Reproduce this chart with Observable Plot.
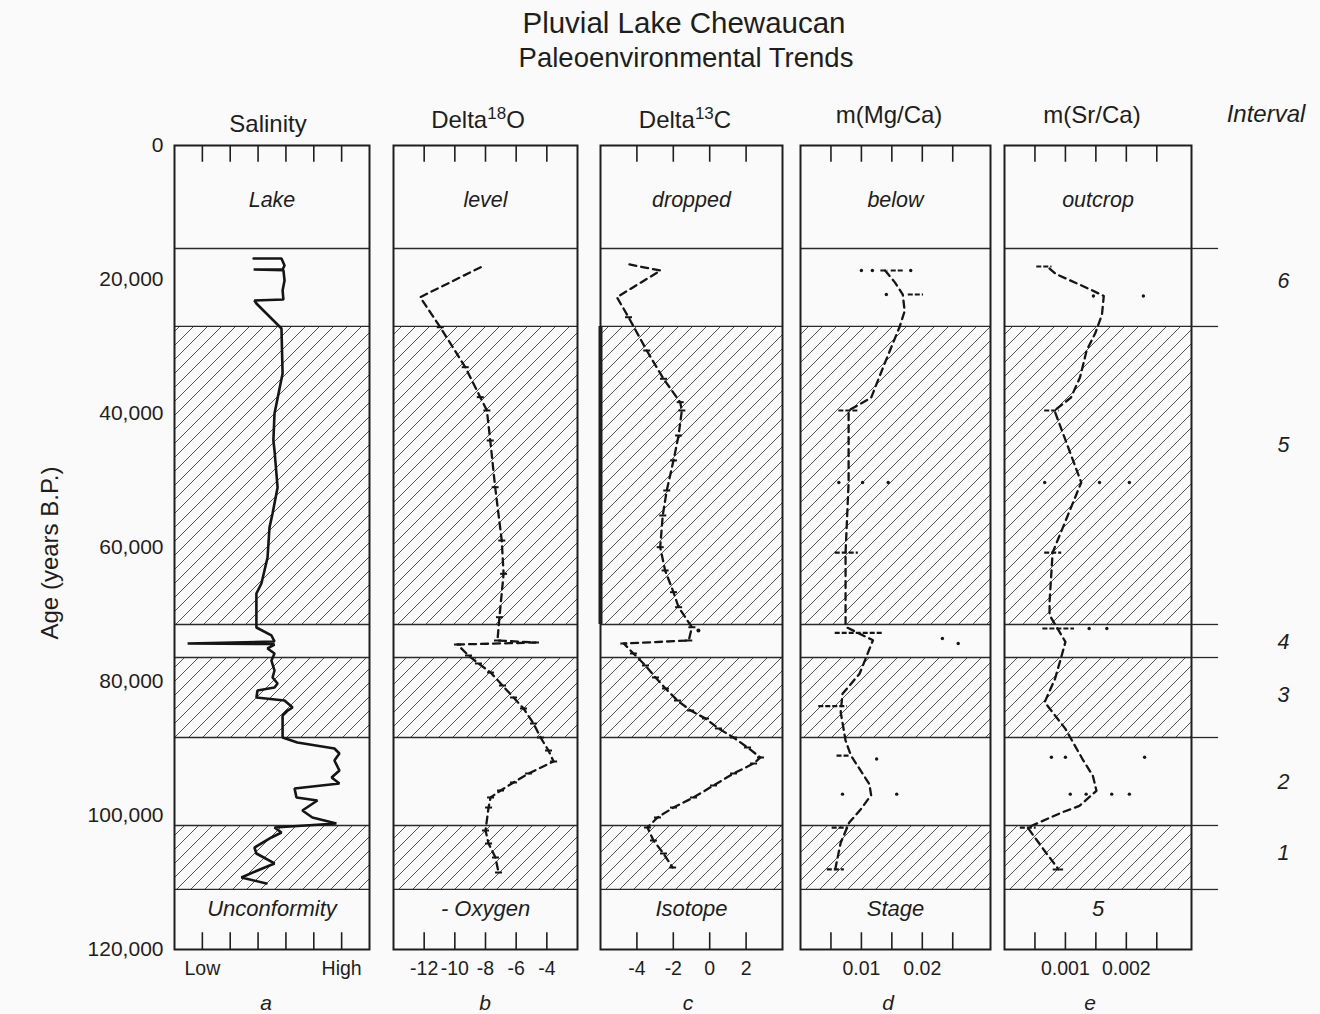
<!DOCTYPE html>
<html><head><meta charset="utf-8">
<script src="https://cdn.jsdelivr.net/npm/d3@7"></script>
<script src="https://cdn.jsdelivr.net/npm/@observablehq/plot@0.6"></script>
<style>
body{margin:0;background:#fafafa;font-family:"Liberation Sans",Arial,sans-serif;color:#1e1e1e}
#wrap{position:relative;width:1320px;height:1014px;overflow:hidden}
.t{position:absolute;white-space:nowrap;text-align:center;line-height:1}
</style></head><body>
<svg width="0" height="0" style="position:absolute"><defs>
<pattern id="hatch" patternUnits="userSpaceOnUse" width="14" height="14">
<path d="M0,14 L14,0 M-3.5,3.5 L3.5,-3.5 M10.5,17.5 L17.5,10.5" stroke="#4a4a4a" stroke-width="0.95" fill="none"/>
</pattern></defs></svg>
<div id="wrap"></div>
<script>
// ---------- data ----------
const ageTicks = [0, 20000, 40000, 60000, 80000, 100000, 120000];
const bandBounds = [15370, 27010, 71490, 76420, 88360, 101490, 111040];
const hatchStart = [27010, 76420, 101490];
const hatchEnd = [71490, 88360, 111040];
const topWords = ["Lake", "level", "dropped", "below", "outcrop"];
const bottomWords = ["Unconformity", "- Oxygen", "Isotope", "Stage", "5"];
const topWordAge = 8210, bottomWordAge = 113880;
const panelLetters = ["a", "b", "c", "d", "e"];
const intervalNames = ["6", "5", "4", "3", "2", "1"];
const intervalAge = [20300, 44780, 74180, 82090, 95070, 105670];

// a: salinity (relative units 0..7, Low..High)
const salTicks = [1, 2, 3, 4, 5, 6];
const salLabelAt = [1, 6];
const salLabels = ["Low", "High"];
const salinityAge = [16870,16870,17910,18510,18510,18600,20150,21640,22990,23130,23580,27310,34030,40000,44030,45520,51040,54930,57010,61490,65370,66870,71940,73130,74030,74330,74400,74480,75070,75820,76870,78360,79400,80300,80900,81340,82390,82840,83880,84330,85070,88360,89100,90000,90750,91790,93280,94330,95220,95970,97310,97760,99250,100300,101190,101790,102540,103280,104780,105670,107160,108210,109250,110150];
const salinityValue = [2.84,3.84,3.95,3.88,2.84,3.91,3.95,3.88,3.91,2.87,2.94,3.84,3.88,3.59,3.55,3.59,3.70,3.52,3.41,3.34,3.12,2.94,2.94,3.48,3.59,0.47,3.48,3.59,3.34,3.59,3.48,3.59,3.52,3.70,3.59,2.98,2.94,3.95,4.24,4.06,3.88,3.88,4.41,5.74,5.92,5.74,5.92,5.64,5.92,4.31,4.38,5.13,4.59,4.95,5.81,3.59,3.84,3.48,2.87,2.94,3.59,2.98,2.40,3.30];

// b: delta 18O
const o18Ticks = [-12, -10, -8, -6, -4];
const o18Age = [18160,22640,27120,33090,37560,39550,44030,51000,58960,63930,70400,73880,74180,74480,76120,77310,78660,80600,82390,84030,86270,88360,90300,91940,93730,95070,96270,97310,98810,102240,104180,106270,108510];
const o18Value = [-8.31,-12.26,-10.95,-9.32,-8.34,-7.91,-7.69,-7.37,-6.94,-6.82,-7.09,-7.22,-4.74,-9.83,-9.11,-8.46,-7.67,-6.89,-6.17,-5.52,-4.87,-4.41,-3.89,-3.56,-5.19,-6.17,-7.02,-7.67,-7.80,-8.00,-7.80,-7.35,-7.15];

// c: delta 13C
const c13Ticks = [-4, -2, 0, 2];
const c13Age = [17760,18660,22640,25630,30600,34820,38310,39550,43280,47010,51490,55220,59950,63430,66670,68910,71900,73880,74330,75820,77610,79400,81040,82840,84330,85520,87010,88360,89850,91340,92240,93730,95520,97310,98810,100300,101790,103730,105670,107760];
const c13Value = [-4.41,-2.70,-5.10,-4.46,-3.46,-2.54,-1.62,-1.53,-1.71,-1.99,-2.36,-2.58,-2.72,-2.45,-1.99,-1.71,-0.98,-1.15,-4.72,-4.19,-3.53,-2.98,-2.43,-1.77,-1.05,-0.23,0.48,1.31,2.08,2.79,2.41,1.31,0.21,-0.89,-1.99,-2.87,-3.42,-3.09,-2.54,-2.04];
const c13DotAge = [72390];
const c13DotValue = [-0.62];

// d: m(Mg/Ca)
const mgTicks = [0.005, 0.01, 0.015, 0.02, 0.025];
const mgLabels = [0.01, 0.02];
const mgAge = [18660,20430,22240,24730,27010,32580,37640,39550,50300,60750,69100,71840,73840,78840,81840,84580,88820,91070,95310,96960,99060,101060,104060,108040];
const mgValue = [0.0139,0.0155,0.0168,0.0171,0.0163,0.0138,0.0116,0.0079,0.0079,0.0074,0.0074,0.0074,0.0119,0.0097,0.0069,0.0066,0.0074,0.0083,0.0113,0.0116,0.0099,0.0080,0.0066,0.0057];
const mgErrAge = [18660,18660,22240,39550,60750,72730,83670,91070,101800,108040];
const mgErrLo = [0.0132,0.0149,0.0177,0.0063,0.0057,0.0057,0.0030,0.0060,0.0052,0.0044];
const mgErrHi = [0.0144,0.0171,0.0202,0.0095,0.0095,0.0136,0.0077,0.0083,0.0079,0.0072];
const mgDotAge = [18660,18660,18660,22240,50300,50300,50300,73580,74330,91570,96810,96810];
const mgDotValue = [0.0100,0.0118,0.0181,0.0141,0.0063,0.0102,0.0144,0.0233,0.0259,0.0125,0.0069,0.0158];

// e: m(Sr/Ca)
const srTicks = [0.0005, 0.001, 0.0015, 0.002, 0.0025];
const srLabels = [0.001, 0.002];
const srAge = [18360,19160,21450,22460,25240,28030,30550,34600,37640,39550,50300,60750,68090,70090,74090,76090,79580,83070,85070,87070,91570,94060,96310,98570,99550,101810,103550,105300,108060];
const srValue = [0.00074,0.00084,0.00140,0.00163,0.00160,0.00149,0.00135,0.00124,0.00109,0.00082,0.00126,0.00079,0.00074,0.00074,0.00100,0.00094,0.00083,0.00066,0.00083,0.00100,0.00128,0.00145,0.00151,0.00123,0.00094,0.00038,0.00052,0.00066,0.00089];
const srErrAge = [18060,39550,60750,72090,101810,108060];
const srErrLo = [0.00053,0.00066,0.00066,0.00063,0.00026,0.00080];
const srErrHi = [0.00078,0.00090,0.00094,0.00115,0.00052,0.00097];
const srDotAge = [22460,22460,50300,50300,50300,72090,72090,91310,91310,91310,96810,96810,96810,96810];
const srDotValue = [0.00146,0.00228,0.00066,0.00156,0.00205,0.00139,0.00168,0.00077,0.00100,0.00230,0.00108,0.00134,0.00176,0.00205];

// ---------- layout ----------
const FONT = '"Liberation Sans", Arial, Helvetica, sans-serif';
const INK = "#1e1e1e";
const wrap = document.getElementById("wrap");
const SVG_TOP = 100, H = 900, MT = 45, MB = 51;

const zip = (a, b) => a.map((v, i) => ({age: v, v: b[i]}));
const hbar = {draw(ctx, size) { const r = Math.sqrt(size / Math.PI); ctx.moveTo(-r, 0); ctx.lineTo(r, 0); }};
const bands = hatchStart.map((s, i) => ({s, e: hatchEnd[i]}));

function common(i, xd, ticks) {
  return [
    Plot.rect(bands, {x1: () => xd[0], x2: () => xd[1], y1: "s", y2: "e", fill: "url(#hatch)"}),
    Plot.ruleY(bandBounds, {stroke: "#2a2a2a", strokeWidth: 1.3}),
    Plot.ruleX(ticks, {y1: 0, y2: 2500, stroke: INK, strokeWidth: 1.6}),
    Plot.ruleX(ticks, {y1: 117500, y2: 120000, stroke: INK, strokeWidth: 1.6}),
    Plot.text([{w: topWords[i], age: topWordAge}], {y: "age", text: "w", frameAnchor: "middle", fontStyle: "italic", fontSize: 21.5, fill: INK}),
    Plot.text([{w: bottomWords[i], age: bottomWordAge}], {y: "age", text: "w", frameAnchor: "middle", fontStyle: "italic", fontSize: 22, fill: INK}),
    Plot.frame({stroke: INK, strokeWidth: 2})
  ];
}

function addPlot(frameLeft, frameRight, xd, marks, ml = 3, mr = 3) {
  const svg = Plot.plot({
    width: frameRight - frameLeft + ml + mr, height: H,
    marginLeft: ml, marginRight: mr, marginTop: MT, marginBottom: MB,
    x: {domain: xd, axis: null},
    y: {domain: [0, 120000], reverse: true, axis: null},
    style: {background: "none", fontFamily: FONT, color: INK, overflow: "visible"},
    marks
  });
  svg.style.position = "absolute";
  svg.style.left = (frameLeft - ml) + "px";
  svg.style.top = SVG_TOP + "px";
  svg.style.maxWidth = "none";
  wrap.appendChild(svg);
}

const axisBottom = (vals, fmt) => Plot.axisX(vals, {anchor: "bottom", tickSize: 0, tickPadding: 12, fontSize: 19.5, tickFormat: fmt, label: null});
const dashed = {stroke: "#151515", strokeWidth: 2.3, strokeDasharray: "7,5"};

// a: salinity
{
  const xd = [0, 7];
  addPlot(174, 369, xd, [
    ...common(0, xd, salTicks),
    Plot.line(zip(salinityAge, salinityValue), {x: "v", y: "age", stroke: "#151515", strokeWidth: 2.6, strokeLinejoin: "miter"}),
    Plot.axisY(ageTicks, {anchor: "left", tickSize: 0, tickPadding: 11, fontSize: 21, tickFormat: d3.format(","), label: null}),
    axisBottom(salLabelAt, d => salLabels[salLabelAt.indexOf(d)])
  ], 174, 3);
}
// b: delta 18O
{
  const xd = [-14, -2];
  const data = zip(o18Age, o18Value);
  addPlot(393, 577, xd, [
    ...common(1, xd, o18Ticks),
    Plot.line(data, {x: "v", y: "age", ...dashed}),
    Plot.dot(data.slice(2), {x: "v", y: "age", symbol: hbar, r: 3.5, stroke: "#151515", strokeWidth: 2, fill: "none"}),
    axisBottom(o18Ticks, d => String(d))
  ]);
}
// c: delta 13C
{
  const xd = [-6, 4];
  const data = zip(c13Age, c13Value);
  addPlot(600, 782, xd, [
    ...common(2, xd, c13Ticks),
    Plot.ruleX([xd[0]], {y1: hatchStart[0], y2: hatchEnd[0], stroke: INK, strokeWidth: 4}),
    Plot.line(data, {x: "v", y: "age", ...dashed}),
    Plot.dot(data.slice(3), {x: "v", y: "age", symbol: hbar, r: 3.5, stroke: "#151515", strokeWidth: 2, fill: "none"}),
    Plot.dot(zip(c13DotAge, c13DotValue), {x: "v", y: "age", r: 2, fill: "#151515"}),
    axisBottom(c13Ticks, d => String(d))
  ]);
}
// d: m(Mg/Ca)
{
  const xd = [0, 0.0312];
  const errs = mgErrAge.map((a, i) => ({age: a, lo: mgErrLo[i], hi: mgErrHi[i]}));
  addPlot(800, 990, xd, [
    ...common(3, xd, mgTicks),
    Plot.line(zip(mgAge, mgValue), {x: "v", y: "age", ...dashed}),
    Plot.ruleY(errs, {y: "age", x1: "lo", x2: "hi", stroke: "#151515", strokeWidth: 2.2, strokeDasharray: "5,2"}),
    Plot.dot(zip(mgDotAge, mgDotValue), {x: "v", y: "age", r: 1.7, fill: "#151515"}),
    axisBottom(mgLabels, d => String(d))
  ]);
}
// e: m(Sr/Ca)
{
  const xd = [0, 0.00307];
  const errs = srErrAge.map((a, i) => ({age: a, lo: srErrLo[i], hi: srErrHi[i]}));
  addPlot(1004, 1191, xd, [
    ...common(4, xd, srTicks),
    Plot.line(zip(srAge, srValue), {x: "v", y: "age", ...dashed}),
    Plot.ruleY(errs, {y: "age", x1: "lo", x2: "hi", stroke: "#151515", strokeWidth: 2.2, strokeDasharray: "5,2"}),
    Plot.dot(zip(srDotAge, srDotValue), {x: "v", y: "age", r: 1.7, fill: "#151515"}),
    axisBottom(srLabels, d => String(d))
  ]);
}
// interval column
{
  const ints = intervalNames.map((n, i) => ({n, age: intervalAge[i]}));
  addPlot(1191, 1320, [0, 1], [
    Plot.ruleY(bandBounds, {x1: 0, x2: 0.21, stroke: "#2a2a2a", strokeWidth: 1.3}),
    Plot.text(ints, {x: 0.713, y: "age", text: "n", fontStyle: "italic", fontSize: 21.5, fill: INK})
  ], 0, 0);
}

// ---------- text ----------
function txt(html, cx, top, size, extra = "") {
  const d = document.createElement("div");
  d.className = "t";
  d.style.cssText = `left:${cx - 250}px;width:500px;top:${top}px;font-size:${size}px;${extra}`;
  d.innerHTML = html;
  wrap.appendChild(d);
}
txt("Pluvial Lake Chewaucan", 684, 8, 29.5);
txt("Paleoenvironmental Trends", 686, 44, 27.5);
const sup = s => `<span style="font-size:17px;position:relative;top:-9px">${s}</span>`;
txt("Salinity", 268, 112, 24);
txt("Delta" + sup("18") + "O", 478, 108, 24);
txt("Delta" + sup("13") + "C", 685, 108, 24);
txt("m(Mg/Ca)", 889, 103, 24);
txt("m(Sr/Ca)", 1092, 103, 24);
txt("Interval", 1266, 102, 24, "font-style:italic");
const letterX = [266, 485, 688, 888, 1090];
panelLetters.forEach((l, i) => txt(l, letterX[i], 992, 21, "font-style:italic"));
{
  const d = document.createElement("div");
  d.className = "t";
  d.style.cssText = "left:-50px;width:200px;top:541px;font-size:24px;transform:rotate(-90deg);transform-origin:100px 12px";
  d.textContent = "Age (years B.P.)";
  wrap.appendChild(d);
}
</script></body></html>
